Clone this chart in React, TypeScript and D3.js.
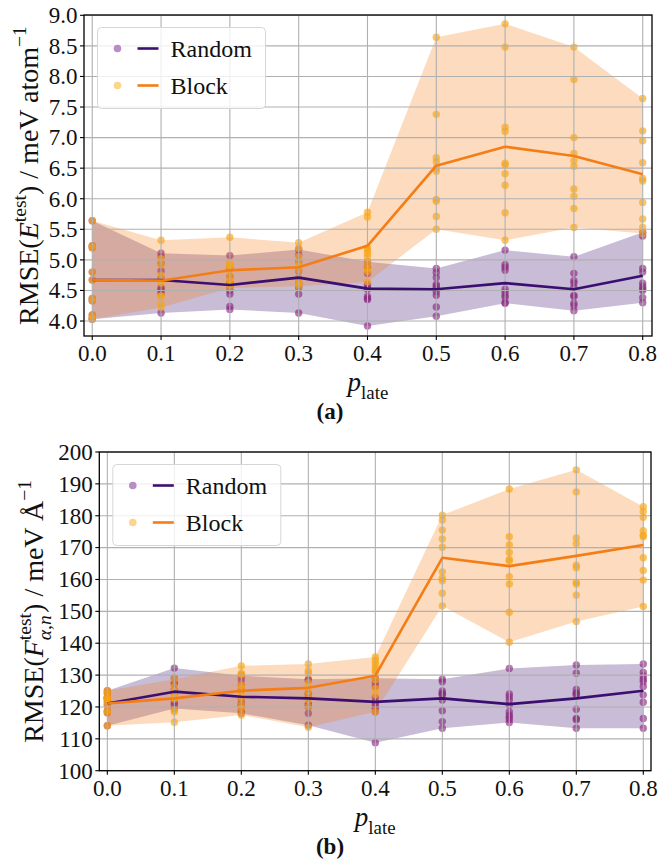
import { useEffect, useRef } from "react";
import * as d3 from "d3";

// p_late values on the x axis
const pLate = [0, 0.1, 0.2, 0.3, 0.4, 0.5, 0.6, 0.7, 0.8];
const xTickLabels = ["0.0", "0.1", "0.2", "0.3", "0.4", "0.5", "0.6", "0.7", "0.8"];

// (a) energy RMSE, meV/atom — per-seed points at each p_late
const energyShared = [5.64, 5.23, 5.2, 4.8, 4.67, 4.37, 4.33, 4.1, 4.05, 4.03];
const energyRandomPts = [
  energyShared,
  [5.11, 5.05, 4.94, 4.82, 4.7, 4.55, 4.52, 4.13, 4.45, 4.5],
  [5.07, 4.85, 4.72, 4.62, 4.55, 4.5, 4.44, 4.24, 4.19, 4.62],
  [5.17, 5.08, 4.97, 4.82, 4.7, 4.62, 4.59, 4.55, 4.44, 4.13],
  [4.97, 4.88, 4.78, 4.6, 4.55, 4.52, 4.4, 4.37, 3.92, 4.35],
  [4.86, 4.79, 4.71, 4.6, 4.57, 4.53, 4.48, 4.42, 4.23, 4.08],
  [5.16, 4.92, 4.88, 4.83, 4.52, 4.47, 4.42, 4.38, 4.29, 4.3],
  [5.05, 4.78, 4.66, 4.62, 4.55, 4.42, 4.29, 4.25, 4.17, 4.4],
  [5.45, 5.39, 4.86, 4.57, 4.53, 4.5, 4.38, 4.3, 4.8, 4.62],
];
const energyBlockPts = [
  energyShared,
  [5.32, 5.02, 4.92, 4.75, 4.41, 4.28, 4.22, 4.62, 4.65, 4.4],
  [5.37, 4.95, 4.92, 4.88, 4.8, 4.7, 4.65, 4.6, 4.54, 4.9],
  [5.28, 5.19, 5.05, 4.95, 4.9, 4.83, 4.7, 4.64, 4.57, 4.6],
  [5.78, 5.7, 5.2, 5.16, 5.11, 5.05, 4.95, 4.86, 4.81, 4.64],
  [8.64, 7.38, 6.67, 6.6, 6.5, 6.45, 5.99, 5.96, 5.71, 5.5],
  [8.86, 8.48, 7.17, 7.1, 6.58, 6.55, 6.41, 6.22, 5.77, 5.32],
  [8.48, 7.95, 7.0, 6.74, 6.53, 6.16, 6.04, 5.84, 5.53, 6.62],
  [7.64, 7.11, 6.95, 6.59, 6.33, 6.29, 5.94, 5.67, 5.53, 5.43],
];
const energyRandomMean = [4.67, 4.67, 4.59, 4.71, 4.53, 4.52, 4.62, 4.52, 4.74];
const energyBlockMean = [4.67, 4.66, 4.83, 4.88, 5.23, 6.54, 6.85, 6.7, 6.4];
const energyTicks = [4.0, 4.5, 5.0, 5.5, 6.0, 6.5, 7.0, 7.5, 8.0, 8.5, 9.0];

// (b) force RMSE, meV/Å
const forceShared = [125.1, 124.3, 123.1, 122.7, 122.5, 121.6, 120.6, 118.8, 118.2, 114.1];
const forceRandomPts = [
  forceShared,
  [132.2, 129.0, 127.6, 127.2, 125.5, 124.3, 121.6, 120.6, 121.0, 119.5],
  [129.8, 128.5, 127.0, 125.3, 122.5, 121.1, 120.5, 119.0, 118.0, 120.3],
  [128.7, 128.3, 124.3, 123.8, 123.0, 120.5, 120.0, 118.0, 121.0, 114.3],
  [129.0, 127.6, 126.4, 123.0, 121.6, 120.3, 119.6, 118.5, 108.8, 121.0],
  [128.7, 127.9, 124.3, 123.8, 125.0, 122.2, 124.0, 118.8, 115.4, 113.3],
  [132.1, 124.1, 123.2, 122.2, 120.6, 118.5, 117.5, 116.8, 116.1, 115.1],
  [133.2, 130.6, 125.5, 124.5, 124.0, 119.3, 116.4, 116.0, 113.3, 124.0],
  [133.5, 130.8, 129.7, 128.7, 127.9, 126.4, 123.8, 121.5, 116.4, 113.3],
];
const forceBlockPts = [
  forceShared,
  [128.7, 126.4, 124.8, 123.5, 123.0, 123.0, 122.5, 119.0, 118.5, 115.2],
  [132.9, 130.6, 130.1, 126.9, 125.8, 124.5, 122.7, 120.6, 119.5, 117.5],
  [133.5, 131.4, 130.6, 127.6, 126.5, 125.0, 123.5, 122.2, 120.1, 113.6],
  [135.7, 134.6, 133.6, 132.5, 131.5, 128.5, 125.9, 124.0, 131.0, 118.5],
  [180.2, 178.7, 175.5, 172.7, 170.1, 162.4, 160.4, 159.6, 155.7, 151.7],
  [188.4, 173.4, 170.8, 168.5, 166.3, 165.8, 160.9, 158.6, 149.7, 140.3],
  [194.4, 187.5, 173.0, 171.2, 164.5, 163.7, 159.1, 158.6, 155.1, 146.8],
  [182.8, 181.3, 179.5, 175.3, 173.9, 173.4, 166.8, 162.8, 159.8, 151.5],
];
const forceRandomMean = [121.1, 124.8, 123.2, 122.7, 121.6, 122.7, 120.9, 122.7, 125.1];
const forceBlockMean = [121.1, 122.7, 125.1, 126.0, 129.8, 166.8, 164.2, 167.4, 170.8];
const forceTicks = [100, 110, 120, 130, 140, 150, 160, 170, 180, 190, 200];

const seriesNames = ["Random", "Block"];

const FONT = "'Liberation Serif', 'Times New Roman', serif";
const RANDOM = { line: "#3b0f70", dot: "#8c2981", fill: "#3b0f70", legendDot: "#b98cc4" };
const BLOCK = { line: "#f57d15", dot: "#fca50a", fill: "#f57d15", legendDot: "#fdd489" };

type Seg = { t: string; it?: boolean; lvl?: number; stack?: boolean };

// mathtext-ish label built from tspans (sup/sub, stacked sup+sub)
function mathText(text: d3.Selection<SVGTextElement, unknown, null, undefined>, segs: Seg[], fs: number) {
  let cur = 0;
  let prevLen = 0;
  let pending = 0;
  segs.forEach((s) => {
    const lvl = s.lvl ?? 0;
    const size = lvl === 0 ? fs : fs * 0.7;
    const off = lvl === 1 ? -fs * 0.42 : lvl === -1 ? fs * 0.3 : 0;
    const ts = text
      .append("tspan")
      .attr("font-size", size)
      .attr("dy", off - cur)
      .style("white-space", "pre")
      .text(s.t);
    if (s.it) ts.attr("font-style", "italic");
    if (s.stack) ts.attr("dx", -prevLen);
    else if (pending) ts.attr("dx", pending);
    const len = (ts.node() as SVGTSpanElement).getComputedTextLength();
    pending = s.stack ? Math.max(0, prevLen - len) : 0;
    prevLen = len;
    cur = off;
  });
}

interface PanelCfg {
  left: number;
  right: number;
  top: number;
  bottom: number;
  xDomain: [number, number];
  yDomain: [number, number];
  yTicks: number[];
  yFmt: (v: number) => string;
  randomPts: number[][];
  blockPts: number[][];
  randomMean: number[];
  blockMean: number[];
  yLabel: Seg[];
  yLabelX: number;
  caption: string;
}

function drawPanel(root: d3.Selection<SVGSVGElement, unknown, null, undefined>, c: PanelCfg) {
  const x = d3.scaleLinear().domain(c.xDomain).range([c.left, c.right]);
  const y = d3.scaleLinear().domain(c.yDomain).range([c.bottom, c.top]);
  const g = root.append("g");

  const series = [
    { pts: c.randomPts, mean: c.randomMean, col: RANDOM },
    { pts: c.blockPts, mean: c.blockMean, col: BLOCK },
  ];

  // bands + scatter (collections, drawn before grid)
  series.forEach((s) => {
    const area = d3
      .area<number>()
      .x((d) => x(d))
      .y0((_, i) => y(d3.min(s.pts[i]) ?? 0))
      .y1((_, i) => y(d3.max(s.pts[i]) ?? 0));
    g.append("path").datum(pLate).attr("d", area).attr("fill", s.col.fill).attr("fill-opacity", 0.28);

    const flat = s.pts.flatMap((vals, i) => vals.map((v) => ({ p: pLate[i], v })));
    g.append("g")
      .selectAll("circle")
      .data(flat)
      .join("circle")
      .attr("cx", (d) => x(d.p))
      .attr("cy", (d) => y(d.v))
      .attr("r", 3.7)
      .attr("fill", s.col.dot)
      .attr("fill-opacity", 0.65);
  });

  // grid
  const grid = g.append("g").attr("stroke", "#b0b0b0").attr("stroke-width", 1.1);
  grid
    .selectAll("line.vx")
    .data(pLate)
    .join("line")
    .attr("x1", (d) => x(d))
    .attr("x2", (d) => x(d))
    .attr("y1", c.top)
    .attr("y2", c.bottom);
  grid
    .selectAll("line.hy")
    .data(c.yTicks)
    .join("line")
    .attr("x1", c.left)
    .attr("x2", c.right)
    .attr("y1", (d) => y(d))
    .attr("y2", (d) => y(d));

  // mean lines
  series.forEach((s) => {
    const line = d3
      .line<number>()
      .x((_, i) => x(pLate[i]))
      .y((d) => y(d));
    g.append("path")
      .datum(s.mean)
      .attr("d", line)
      .attr("fill", "none")
      .attr("stroke", s.col.line)
      .attr("stroke-width", 2.6)
      .attr("stroke-linejoin", "round");
  });

  // spines
  g.append("rect")
    .attr("x", c.left)
    .attr("y", c.top)
    .attr("width", c.right - c.left)
    .attr("height", c.bottom - c.top)
    .attr("fill", "none")
    .attr("stroke", "#000")
    .attr("stroke-width", 1.3);

  // ticks
  const ticks = g.append("g").attr("stroke", "#000").attr("stroke-width", 1.1);
  ticks
    .selectAll("line.tx")
    .data(pLate)
    .join("line")
    .attr("x1", (d) => x(d))
    .attr("x2", (d) => x(d))
    .attr("y1", c.bottom)
    .attr("y2", c.bottom + 4);
  ticks
    .selectAll("line.ty")
    .data(c.yTicks)
    .join("line")
    .attr("x1", c.left - 4)
    .attr("x2", c.left)
    .attr("y1", (d) => y(d))
    .attr("y2", (d) => y(d));

  const lab = g.append("g").attr("fill", "#111");
  lab
    .selectAll("text.xl")
    .data(pLate)
    .join("text")
    .attr("font-family", FONT)
    .attr("font-size", 23)
    .attr("x", (d) => x(d))
    .attr("y", c.bottom + 25)
    .attr("text-anchor", "middle")
    .text((_, i) => xTickLabels[i]);
  lab
    .selectAll("text.yl")
    .data(c.yTicks)
    .join("text")
    .attr("font-family", FONT)
    .attr("font-size", 23)
    .attr("x", c.left - 6.5)
    .attr("y", (d) => y(d))
    .attr("dy", "0.34em")
    .attr("text-anchor", "end")
    .text((d) => c.yFmt(d));

  // x label p_late
  const xl = g
    .append("text")
    .attr("font-family", FONT)
    .attr("x", (c.left + c.right) / 2)
    .attr("y", c.bottom + 55)
    .attr("text-anchor", "middle")
    .attr("fill", "#111");
  mathText(xl, [{ t: "p", it: true }, { t: "late", lvl: -1 }], 27);

  // y label
  const yl = g
    .append("text")
    .attr("font-family", FONT)
    .attr("text-anchor", "middle")
    .attr("fill", "#111")
    .attr("transform", `translate(${c.yLabelX},${(c.top + c.bottom) / 2}) rotate(-90)`);
  mathText(yl, c.yLabel, 28);

  // caption, centred on the figure
  g.append("text")
    .attr("font-family", FONT)
    .attr("font-weight", "bold")
    .attr("font-size", 23)
    .attr("x", 330)
    .attr("y", c.bottom + 83)
    .attr("text-anchor", "middle")
    .attr("fill", "#111")
    .text(c.caption);

  // legend
  const lx = c.left + 13.5;
  const ly = c.top + 12.5;
  const leg = g.append("g");
  leg.append("rect")
    .attr("x", lx)
    .attr("y", ly)
    .attr("width", 168)
    .attr("height", 81)
    .attr("rx", 4)
    .attr("fill", "#fff")
    .attr("fill-opacity", 0.8)
    .attr("stroke", "#d6d6d6")
    .attr("stroke-width", 1);
  [RANDOM, BLOCK].forEach((col, i) => {
    const ry = ly + 21 + i * 37;
    leg.append("circle").attr("cx", lx + 20).attr("cy", ry).attr("r", 3.8).attr("fill", col.legendDot);
    leg.append("line")
      .attr("x1", lx + 40)
      .attr("x2", lx + 61)
      .attr("y1", ry)
      .attr("y2", ry)
      .attr("stroke", col.line)
      .attr("stroke-width", 2.6);
    leg.append("text")
      .attr("x", lx + 73)
      .attr("y", ry)
      .attr("dy", "0.35em")
      .attr("font-family", FONT)
      .attr("font-size", 24)
      .attr("fill", "#111")
      .text(seriesNames[i]);
  });
}

export default function App() {
  const svgRef = useRef<SVGSVGElement>(null);

  useEffect(() => {
    if (!svgRef.current) return;
    const svg = d3.select(svgRef.current);
    svg.selectAll("*").remove();

    drawPanel(svg, {
      left: 84,
      right: 652,
      top: 15,
      bottom: 336,
      xDomain: [-0.012, 0.8135],
      yDomain: [3.755, 9.005],
      yTicks: energyTicks,
      yFmt: d3.format(".1f"),
      randomPts: energyRandomPts,
      blockPts: energyBlockPts,
      randomMean: energyRandomMean,
      blockMean: energyBlockMean,
      yLabel: [
        { t: "RMSE(" },
        { t: "E", it: true },
        { t: "test", lvl: 1 },
        { t: ") / meV atom" },
        { t: "\u22121", lvl: 1 },
      ],
      yLabelX: 38,
      caption: "(a)",
    });

    drawPanel(svg, {
      left: 99.3,
      right: 651,
      top: 452,
      bottom: 770.7,
      xDomain: [-0.012, 0.8115],
      yDomain: [100, 200],
      yTicks: forceTicks,
      yFmt: d3.format("d"),
      randomPts: forceRandomPts,
      blockPts: forceBlockPts,
      randomMean: forceRandomMean,
      blockMean: forceBlockMean,
      yLabel: [
        { t: "RMSE(" },
        { t: "F", it: true },
        { t: "test", lvl: 1 },
        { t: "\u03b1,n", it: true, lvl: -1, stack: true },
        { t: ") / meV \u00c5" },
        { t: "\u22121", lvl: 1 },
      ],
      yLabelX: 43,
      caption: "(b)",
    });
  }, []);

  return (
    <svg
      ref={svgRef}
      width={658}
      height={861}
      style={{ position: "absolute", left: 0, top: 0, background: "#fff" }}
    />
  );
}
